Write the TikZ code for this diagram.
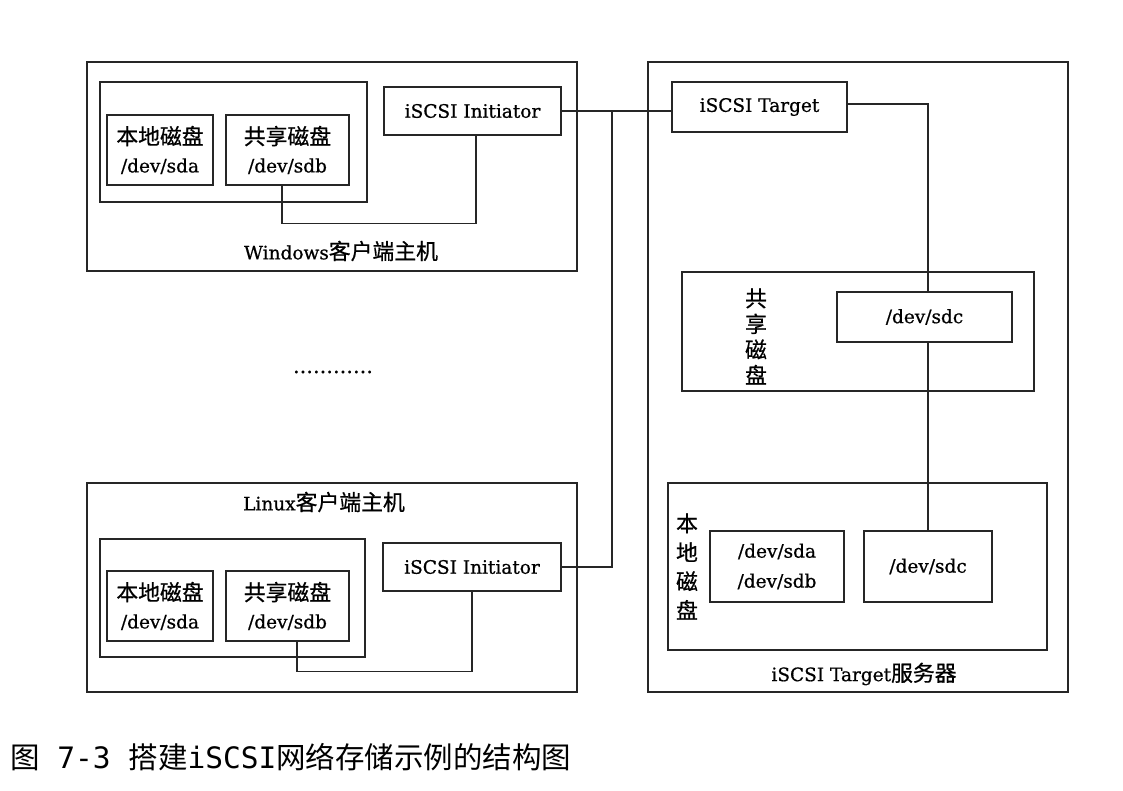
\documentclass[tikz,border=0pt]{standalone}
\usepackage{fontspec}
\setmainfont{DejaVu Serif}[FakeBold=0.7]
\newfontfamily\cjk{Noto Sans CJK SC}[Scale=1.18,FakeBold=0.7]
\newfontfamily\capcjk{Noto Sans CJK SC}
\newfontfamily\capmono{DejaVu Sans Mono}
\definecolor{lc}{HTML}{262626}
\tikzset{
  box/.style={draw=lc, line width=1.4pt, inner sep=0pt, align=center,
    font=\fontsize{18.5}{28}\selectfont},
  lbl/.style={inner sep=0pt, align=center, font=\fontsize{18.5}{28}\selectfont},
  vlbl/.style={inner sep=0pt, align=center},
  wire/.style={draw=lc, line width=1.4pt},
}
\begin{document}
\begin{tikzpicture}[x=1pt,y=-1pt]
\fill[white] (0,0) rectangle (1123,790);
\useasboundingbox (0,0) rectangle (1123,790);

% Windows client host
\node[box, minimum width=490pt, minimum height=209pt] (win) at (332,166.5) {};
\node[box, minimum width=267pt, minimum height=120pt] (wgrp) at (233.5,142) {};
\node[box, minimum width=106pt, minimum height=70pt] (wloc) at (160,150) {{\cjk 本地磁盘}\\/dev/sda};
\node[box, minimum width=123pt, minimum height=70pt] (wsh) at (287.5,150) {{\cjk 共享磁盘}\\/dev/sdb};
\node[box, minimum width=177pt, minimum height=48pt] (winit) at (472.5,111) {iSCSI Initiator};
\node[lbl] (wlbl) at (341,251) {Windows{\cjk 客户端主机}};

% dots
\node[lbl, font=\fontsize{20}{24}\selectfont] (dots) at (333,372) {…………};

% Linux client host
\node[box, minimum width=490pt, minimum height=209pt] (lin) at (332,587.5) {};
\node[lbl] (llbl) at (324,502) {Linux{\cjk 客户端主机}};
\node[box, minimum width=265pt, minimum height=118pt] (lgrp) at (232.5,598) {};
\node[box, minimum width=106pt, minimum height=70pt] (lloc) at (160,606) {{\cjk 本地磁盘}\\/dev/sda};
\node[box, minimum width=123pt, minimum height=70pt] (lsh) at (287.5,606) {{\cjk 共享磁盘}\\/dev/sdb};
\node[box, minimum width=178pt, minimum height=48pt] (linit) at (472,567) {iSCSI Initiator};

% iSCSI Target server
\node[box, minimum width=420pt, minimum height=630pt] (srv) at (858,377) {};
\node[box, minimum width=175pt, minimum height=50pt] (tgt) at (759.5,107) {iSCSI Target};
\node[box, minimum width=352pt, minimum height=119pt] (shd) at (858,331.5) {};
\node[vlbl, font=\fontsize{18.5}{25.6}\selectfont\cjk] (shdt) at (756,336.5) {共\\享\\磁\\盘};
\node[box, minimum width=175pt, minimum height=50pt] (sdc1) at (924.5,317) {/dev/sdc};
\node[box, minimum width=379pt, minimum height=167pt] (lcd) at (857.5,566.5) {};
\node[vlbl, font=\fontsize{18.5}{29}\selectfont\cjk] (lcdt) at (687,566.5) {本\\地\\磁\\盘};
\node[box, minimum width=134pt, minimum height=71pt, font=\fontsize{18.5}{30}\selectfont] (sdab) at (777,566.5) {/dev/sda\\/dev/sdb};
\node[box, minimum width=128pt, minimum height=71pt] (sdc2) at (928,566.5) {/dev/sdc};
\node[lbl] (slbl) at (864,674) {iSCSI Target{\cjk 服务器}};

% connectors
\coordinate (J) at (612,111);
\draw[wire] ([xshift=-5.5pt]wsh.south) -- ++(0,38) -| ([xshift=3.5pt]winit.south);
\draw[wire] ([xshift=9.5pt]lsh.south) -- ++(0,30) -| (linit.south);
\draw[wire] (winit.east) -- (tgt.west |- winit.east);
\draw[wire] (linit.east) -| (J);
\draw[wire] ([yshift=3pt]tgt.east) -| ([xshift=3.5pt]sdc1.north);
\draw[wire] ([xshift=3.5pt]sdc1.south) -- (sdc2.north);

% caption
\node[anchor=west, inner sep=0pt, font=\fontsize{29.5}{30}\selectfont] (cap) at (10,757)
  {{\capcjk 图}{\capmono\ 7-3\ }{\capcjk 搭建}{\capmono iSCSI}{\capcjk 网络存储示例的结构图}};
\end{tikzpicture}
\end{document}
